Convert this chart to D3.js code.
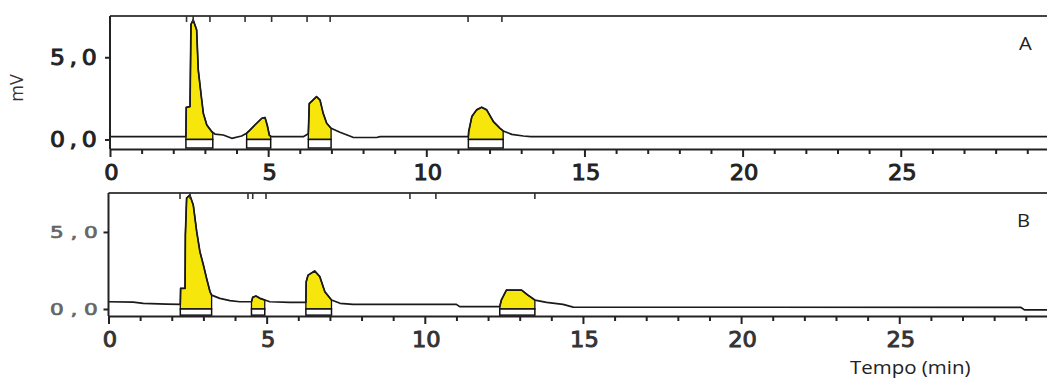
<!DOCTYPE html>
<html><head><meta charset="utf-8">
<script src="https://cdn.jsdelivr.net/npm/d3@7"></script>
<style>body{margin:0;background:#fff}</style>
</head><body><svg id="c" width="1047" height="381"></svg>
<script>
// ---------- DATA ----------
const timeA = [0,2.40,2.41,2.53,2.56,2.63,2.74,2.79,2.90,2.95,3.06,3.22,3.25,3.32,3.58,3.85,4.16,4.32,4.43,4.58,4.80,4.90,4.97,5.04,5.08,5.11,6.11,6.27,6.30,6.53,6.64,6.74,6.85,6.99,7.27,7.68,8.43,8.54,11.33,11.34,11.44,11.59,11.75,11.91,12.12,12.33,12.43,12.70,13.07,13.30,29.70];
const mvA   = [0.17,0.17,1.95,2.0,7.0,7.27,6.66,4.23,2.4,1.6,0.88,0.47,0.42,0.33,0.27,0.07,0.21,0.38,0.58,0.88,1.29,1.33,0.88,0.25,0.20,0.17,0.17,0.35,2.18,2.6,2.4,1.59,0.99,0.68,0.44,0.13,0.12,0.17,0.17,0.47,1.39,1.8,1.96,1.8,1.09,0.68,0.52,0.31,0.21,0.17,0.17];
const timeB = [0,0.78,1.10,1.84,2.27,2.28,2.42,2.43,2.47,2.57,2.68,2.79,2.89,3.00,3.10,3.21,3.26,3.52,3.84,4.15,4.52,4.56,4.66,4.79,4.94,5.10,5.73,6.24,6.25,6.31,6.52,6.68,6.84,7.05,7.32,7.73,11.0,11.1,12.37,12.42,12.58,13.06,13.26,13.48,13.85,14.37,14.69,28.85,28.96,29.70];
const mvB   = [0.47,0.45,0.37,0.32,0.30,1.34,1.34,4.8,7.2,7.4,6.75,5.0,3.72,2.86,2.0,1.12,0.9,0.69,0.54,0.47,0.47,0.76,0.84,0.69,0.58,0.47,0.43,0.43,1.77,2.2,2.47,2.1,1.12,0.58,0.37,0.30,0.30,0.15,0.15,0.58,1.23,1.23,0.9,0.58,0.43,0.30,0.12,0.10,-0.06,-0.06];
const peakStartA = [2.40, 4.32, 6.27, 11.33];
const peakEndA   = [3.25, 5.08, 6.99, 12.43];
const peakStartB = [2.27, 4.52, 6.24, 12.37];
const peakEndB   = [3.26, 4.94, 7.05, 13.48];
const eventsA = [2.42, 2.63, 3.16, 4.27, 5.11, 6.23, 6.96, 11.32, 12.39];
const eventsB = [2.26, 2.58, 4.41, 4.56, 4.98, 9.53, 10.35, 13.48];
const xTickValues = [0,1,2,3,4,5,6,7,8,9,10,11,12,13,14,15,16,17,18,19,20,21,22,23,24,25,26,27,28,29];
const xTickLabels = ["0","5","10","15","20","25"];
const yTickValues = [0, 5];
const yTickLabels = ["0,0", "5,0"];
const panelLabels = ["A", "B"];
const yAxisTitle = "mV";
const xAxisTitle = "Tempo (min)";

// ---------- DRAW ----------
const svg = d3.select("#c");
const W = 1047;
const YELLOW = "#f6e60c";

function drawPanel(cfg) {
  const x = d3.scaleLinear().domain([0, (W - cfg.left) / 31.63]).range([cfg.left, W]);
  const y = d3.scaleLinear().domain(cfg.ydom).range([cfg.bottom, cfg.top]);
  const g = svg.append("g");

  // fills
  cfg.starts.forEach((s, k) => {
    const e = cfg.ends[k];
    const pts = [];
    cfg.time.forEach((t, i) => { if (t >= s - 1e-9 && t <= e + 1e-9) pts.push([t, cfg.mv[i]]); });
    const area = d3.area().x(d => x(d[0])).y0(y(0)).y1(d => y(d[1]));
    g.append("path").attr("d", area(pts) )
      .attr("fill", YELLOW).attr("stroke", "#111").attr("stroke-width", 1.3);
    g.append("rect")
      .attr("x", x(s)).attr("y", y(0))
      .attr("width", x(e) - x(s)).attr("height", y(cfg.boxBottom) - y(0))
      .attr("fill", "#fff").attr("stroke", "#111").attr("stroke-width", 1.5);
  });

  // signal
  const line = d3.line().x((d, i) => x(cfg.time[i])).y(d => y(d));
  g.append("path").attr("d", line(cfg.mv)).attr("fill", "none")
    .attr("stroke", "#1a1a1a").attr("stroke-width", 1.7).attr("stroke-linejoin", "round");

  // frame: top border and left border
  g.append("line").attr("x1", cfg.left).attr("x2", W).attr("y1", cfg.top).attr("y2", cfg.top)
    .attr("stroke", "#444").attr("stroke-width", 2.2);
  g.append("line").attr("x1", cfg.left).attr("x2", cfg.left).attr("y1", cfg.top).attr("y2", cfg.bottom)
    .attr("stroke", "#222").attr("stroke-width", 2);

  // event marks at top
  g.selectAll(".ev").data(cfg.events).enter().append("line")
    .attr("x1", d => x(d)).attr("x2", d => x(d))
    .attr("y1", cfg.top).attr("y2", cfg.top + 6)
    .attr("stroke", "#333").attr("stroke-width", 1.6);

  // x axis
  const xa = d3.axisBottom(x).tickValues(xTickValues).tickSizeInner(5).tickSizeOuter(0)
    .tickFormat(d => d % 5 === 0 ? xTickLabels[d / 5] : "");
  const gx = g.append("g").attr("transform", `translate(0,${cfg.bottom})`).call(xa);
  gx.select(".domain").attr("stroke", "#222").attr("stroke-width", 2.2);
  gx.selectAll(".tick line").attr("stroke", "#222").attr("stroke-width", 2)
    .attr("y2", d => d % 5 === 0 ? 8 : 5);
  gx.selectAll(".tick text")
    .attr("y", 0).attr("dy", 0)
    .attr("transform", "translate(1,31) scale(1.1,1)")
    .attr("font-family", "DejaVu Sans").attr("font-weight", "normal")
    .attr("stroke", cfg.xLabelColor).attr("stroke-width", 0.9)
    .attr("font-size", 20.5).attr("fill", cfg.xLabelColor);

  // y axis
  const ya = d3.axisLeft(y).tickValues(yTickValues).tickSizeInner(5).tickSizeOuter(0)
    .tickFormat((d, i) => yTickLabels[i]);
  const gy = g.append("g").attr("transform", `translate(${cfg.left},0)`).call(ya);
  gy.select(".domain").remove();
  gy.selectAll(".tick line").attr("stroke", "#222").attr("stroke-width", 2);
  gy.selectAll(".tick text")
    .attr("x", 0).attr("dy", "0.36em").attr("text-anchor", "start")
    .attr("transform", `translate(${50 - cfg.left},0) scale(${cfg.yScaleX},1)`)
    .attr("font-family", "DejaVu Sans").attr("font-weight", "normal")
    .attr("letter-spacing", cfg.ySpacing)
    .attr("stroke", cfg.yLabelColor).attr("stroke-width", cfg.yStroke)
    .attr("font-size", cfg.yFont).attr("fill", cfg.yLabelColor);

  // panel letter
  svg.append("text").attr("transform", `translate(${cfg.labelX},${cfg.labelY}) scale(1.12,1)`)
    .attr("font-family", "Open Sans").attr("font-size", 18).attr("fill", "#222")
    .text(cfg.label);
}

drawPanel({
  left: 110, top: 16, bottom: 149, ydom: [-0.58, 7.51], boxBottom: -0.52,
  time: timeA, mv: mvA, starts: peakStartA, ends: peakEndA, events: eventsA,
  yFont: 20.5, yScaleX: 1.15, ySpacing: 4, yStroke: 0.9, yLabelColor: "#222", xLabelColor: "#222",
  label: panelLabels[0], labelX: 1019, labelY: 50
});
drawPanel({
  left: 108.5, top: 193, bottom: 316, ydom: [-0.455, 7.53], boxBottom: -0.4,
  time: timeB, mv: mvB, starts: peakStartB, ends: peakEndB, events: eventsB,
  yFont: 16, yScaleX: 1.35, ySpacing: 5, yStroke: 0.7, yLabelColor: "#666", xLabelColor: "#333",
  label: panelLabels[1], labelX: 1017, labelY: 227
});

svg.append("text").attr("transform", "translate(23,88) rotate(-90)")
  .attr("text-anchor", "middle").attr("font-family", "Open Sans")
  .attr("font-size", 18).attr("fill", "#333").text(yAxisTitle);

svg.append("text").attr("transform", "translate(850,374) scale(1.17,1)")
  .attr("font-family", "Open Sans").attr("font-size", 17.5).attr("fill", "#222")
  .text(xAxisTitle);
</script>
</body></html>
